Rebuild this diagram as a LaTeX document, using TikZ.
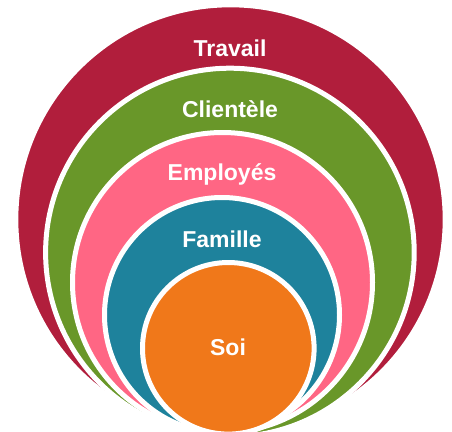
\documentclass[tikz,border=0pt]{standalone}
\usepackage{fontspec}
\setmainfont{Liberation Sans}
\usepackage{tikz}
\usepackage{xcolor}
\definecolor{travailred}{RGB}{177,30,60}
\definecolor{clientgreen}{RGB}{105,151,41}
\definecolor{employpink}{RGB}{255,102,132}
\definecolor{familleteal}{RGB}{30,130,156}
\definecolor{soiorange}{RGB}{240,120,26}
\tikzstyle{ring} = [circle, draw=white, line width=5pt, inner sep=0pt, outer sep=0pt]
\tikzstyle{ringlabel} = [text=white, font=\bfseries\fontsize{23}{23}\selectfont, inner sep=0pt]

\begin{document}
\begin{tikzpicture}[x=1pt, y=1pt]
    \useasboundingbox (0,0) rectangle (452,-431);
    \clip (0,0) rectangle (452,-431);
    % Circles, outermost first
    \node (travail) [ring, fill=travailred, minimum size=429.4pt] at (230.5,-219.5) {};
    \node (clientele) [ring, fill=clientgreen, minimum size=368.6pt] at (229.9,-252.5) {};
    \node (employes) [ring, fill=employpink, minimum size=300pt] at (222.5,-282.5) {};
    \node (famille) [ring, fill=familleteal, minimum size=235pt] at (222,-315) {};
    \node (soi) [ring, fill=soiorange, minimum size=171.6pt] at (228.3,-348.3) {};
    % Labels
    \node (travailtxt) [ringlabel] at (230,-48) {Travail};
    \node (clienteletxt) [ringlabel] at (230,-109) {Clientèle};
    \node (employestxt) [ringlabel] at (222,-174) {Employés};
    \node (familletxt) [ringlabel] at (222,-239) {Famille};
    \node (soitxt) [ringlabel] at (228,-347) {Soi};
\end{tikzpicture}
\end{document}
